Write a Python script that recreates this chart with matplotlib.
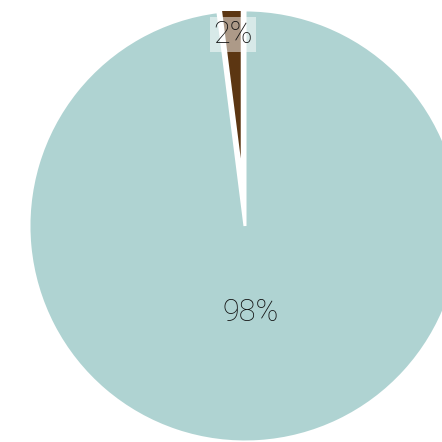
import matplotlib.pyplot as plt
import numpy as np

'Data of the chart'
labels = ['Other', 'Small']
values = [98, 2]
colors = ['#afd3d2', '#5c3612']
explode = [0, 0.2]

fig = plt.figure(figsize=(4.42, 4.42), dpi=100)
ax = fig.add_axes([0, 0, 1, 431 / 442])

'Small slice starts at the top and goes counter clockwise, so draw it first'
order = [1, 0]
wedges, texts, autotexts = ax.pie(
    [values[i] for i in order],
    colors=[colors[i] for i in order],
    explode=[explode[i] for i in order],
    startangle=90,
    counterclock=True,
    autopct='%1.0f%%',
    pctdistance=0.4,
    radius=1,
    wedgeprops=dict(edgecolor='white', linewidth=2.2),
    textprops=dict(fontsize=22, color='#111111', family=['Roboto', 'DejaVu Sans'], fontweight='light'),
)
for w in wedges:
    w.set_clip_on(True)

'Move the label of the small slice out near the rim'
small = autotexts[0]
ang = np.deg2rad(90 + 360 * values[1] / 100 / 2)
d = explode[1] + 0.69
small.set_position((d * np.cos(ang), d * np.sin(ang)))
small.set_bbox(dict(boxstyle='square,pad=0.1', facecolor='white', edgecolor='none', alpha=0.5))

ax.set_xlim(-1.134, 0.912)
ax.set_ylim(-1.0, 0.995)
ax.set_aspect('equal', adjustable='box')
ax.axis('off')

fig.savefig('out.png', dpi=100)
